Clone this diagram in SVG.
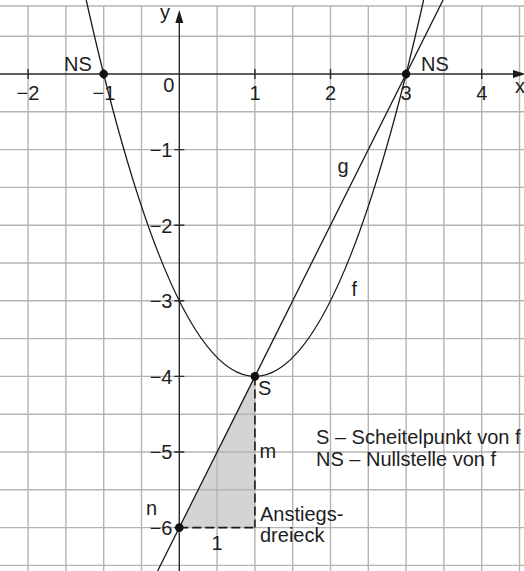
<svg xmlns="http://www.w3.org/2000/svg" width="524" height="571" viewBox="0 0 524 571">
<style>
text{font-family:"Liberation Sans",Arial,Helvetica,sans-serif;font-size:20px;fill:#1e1e1e}
.grid{stroke:#b4b4b4;stroke-width:1.4;fill:none}
.axis{stroke:#2a2a2a;stroke-width:1.4;fill:none}
.curve{stroke:#1a1a1a;stroke-width:1.3;fill:none}
.dash{stroke:#1a1a1a;stroke-width:1.6;stroke-dasharray:9 4;fill:none}
.mid{text-anchor:middle}
.end{text-anchor:end}
</style>
<rect width="524" height="571" fill="#ffffff"/>
<g id="triangle-fill">
<polygon points="179.3,527.6 254.9,527.6 254.9,376.4" fill="#d4d4d4"/>
</g>
<g id="grid">
<path class="grid" d="M0,6H524M0,36.2H524M0,111.8H524M0,149.6H524M0,187.4H524M0,225.2H524M0,263H524M0,300.8H524M0,338.6H524M0,376.4H524M0,414.2H524M0,452H524M0,489.8H524M0,527.6H524M0,565.4H524M28.1,6V571M65.9,6V571M103.7,6V571M141.5,6V571M217.1,6V571M254.9,6V571M292.7,6V571M330.5,6V571M368.3,6V571M406.1,6V571M443.9,6V571M481.7,6V571M519.5,6V571"/>
</g>
<g id="axes">
<path class="axis" d="M0,74H515M179.3,571V22"/>
<polygon points="513,70 526,74 513,78" fill="#1a1a1a"/>
<polygon points="175.3,23 179.3,10 183.3,23" fill="#1a1a1a"/>
<path class="axis" d="M28.1,69V79M103.7,69V79M254.9,69V79M330.5,69V79M406.1,69V79M481.7,69V79M174.3,149.6H184.3M174.3,225.2H184.3M174.3,300.8H184.3M174.3,376.4H184.3M174.3,452H184.3M174.3,527.6H184.3"/>
<text x="515" y="93">x</text>
<text x="160" y="18.5">y</text>
<text class="mid" x="28" y="99.5">−2</text>
<text class="mid" x="104" y="99.5">−1</text>
<text class="mid" x="168.7" y="91.7">0</text>
<text class="mid" x="255" y="99.5">1</text>
<text class="mid" x="330.5" y="99.5">2</text>
<text class="mid" x="406" y="99.5">3</text>
<text class="mid" x="481.7" y="99.5">4</text>
<text class="end" x="172.5" y="157">−1</text>
<text class="end" x="172.5" y="232.7">−2</text>
<text class="end" x="172.5" y="308.3">−3</text>
<text class="end" x="172.5" y="383.5">−4</text>
<text class="end" x="172.5" y="459">−5</text>
<text class="end" x="172.5" y="534.5">−6</text>
</g>
<g id="connectors">
<path id="f" class="curve" d="M86.2,0Q254.9,752.8 423.6,0"/>
<path id="g" class="curve" d="M443.1,0L157.6,571"/>
<path id="m-leg" class="dash" d="M254.9,376.4V527.6"/>
<path id="run-leg" class="dash" d="M179.3,527.6H254.9"/>
</g>
<g id="node-NS-left">
<circle cx="103.7" cy="74" r="4.3" fill="#111"/>
<text x="64" y="71">NS</text>
</g>
<g id="node-NS-right">
<circle cx="406.1" cy="74" r="4.3" fill="#111"/>
<text x="421" y="70.5">NS</text>
</g>
<g id="node-S">
<circle cx="254.9" cy="376.4" r="4.3" fill="#111"/>
<text x="258" y="395">S</text>
</g>
<g id="node-n">
<circle cx="179.3" cy="527.6" r="4.3" fill="#111"/>
<text x="146" y="515">n</text>
</g>
<g id="labels">
<text x="337.5" y="173">g</text>
<text x="351.5" y="296">f</text>
<text x="259.5" y="457.5">m</text>
<text class="mid" x="217" y="550">1</text>
<text x="260" y="521">Anstiegs-</text>
<text x="260" y="541.7">dreieck</text>
</g>
<g id="legend">
<text x="316" y="444">S – Scheitelpunkt von f</text>
<text x="316" y="465.7">NS – Nullstelle von f</text>
</g>
</svg>
